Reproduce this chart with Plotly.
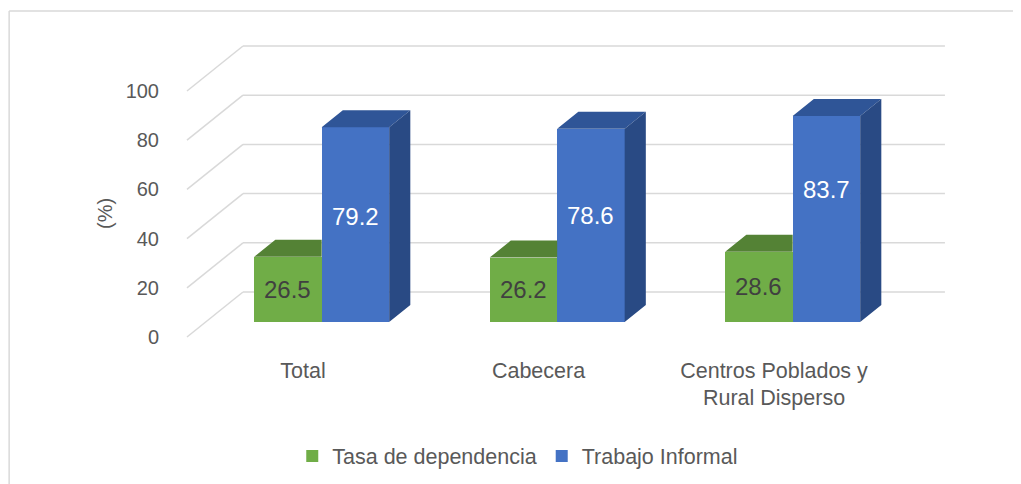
import plotly.graph_objects as go

# ---------------- data ----------------
categories = ["Total", "Cabecera", "Centros Poblados y<br>Rural Disperso"]
series_names = ["Tasa de dependencia", "Trabajo Informal"]
tasa_dependencia = [26.5, 26.2, 28.6]
trabajo_informal = [79.2, 78.6, 83.7]
y_ticks = [0, 20, 40, 60, 80, 100]

# ---------------- style ----------------
FRONT = ["#70AD47", "#4472C4"]
TOP = ["#548235", "#2F5597"]
SIDE = ["#4E7A30", "#294A84"]
LABEL_COLOR = ["#404040", "#FFFFFF"]
LABEL_NUDGE = [[0, 0, 0], [8, 10, 30]]  # px, upward nudge of inside labels
TXT = "#595959"
GRID = "#D9D9D9"
FONT = "Liberation Sans"

# pseudo-3D geometry (in axis units)
DEPTH_X = 0.2378      # x shift from front plane to back wall
DEPTH_Y = 18.29       # y shift from front plane to back wall
BAR_FRONT_D = 1 / 3   # depth fraction of bar front face
BAR_BACK_D = 0.711    # depth fraction of bar back face
BAR_W = 0.2866
FLOOR_LEFT, FLOOR_RIGHT = -0.4926, 2.488

values = [tasa_dependencia, trabajo_informal]
cat_x = list(range(len(categories)))

fig = go.Figure()

# gridlines (side wall diagonal + back wall)
shapes = []
for t in y_ticks:
    shapes.append(dict(type="line", xref="x", yref="y", layer="below",
                       x0=FLOOR_LEFT, y0=t, x1=FLOOR_LEFT + DEPTH_X, y1=t + DEPTH_Y,
                       line=dict(color=GRID, width=1.5)))
    shapes.append(dict(type="line", xref="x", yref="y", layer="below",
                       x0=FLOOR_LEFT + DEPTH_X, y0=t + DEPTH_Y,
                       x1=FLOOR_RIGHT + DEPTH_X, y1=t + DEPTH_Y,
                       line=dict(color=GRID, width=1.5)))
# outer chart border (top and left)
BORDER_X = -0.1915
shapes.append(dict(type="line", xref="paper", yref="paper", x0=BORDER_X, y0=1.0277,
                   x1=1.1, y1=1.0277, line=dict(color="#D9D9D9", width=1.5)))
shapes.append(dict(type="line", xref="paper", yref="paper", x0=BORDER_X, y0=1.0277,
                   x1=BORDER_X, y1=-0.6, line=dict(color="#D9D9D9", width=1.5)))

fx = BAR_FRONT_D * DEPTH_X
fy = BAR_FRONT_D * DEPTH_Y
ddx = (BAR_BACK_D - BAR_FRONT_D) * DEPTH_X
ddy = (BAR_BACK_D - BAR_FRONT_D) * DEPTH_Y

annotations = []
for k, (name, vals) in enumerate(zip(series_names, values)):
    lefts = [c + fx + (k - 1) * BAR_W for c in cat_x]
    centers = [l + BAR_W / 2 for l in lefts]
    fig.add_trace(go.Bar(
        x=centers, y=vals, base=[fy] * len(vals), width=BAR_W, name=name,
        marker=dict(color=FRONT[k], line=dict(width=0)), hoverinfo="skip",
    ))
    tx, ty, sx, sy = [], [], [], []
    for i, (l, v) in enumerate(zip(lefts, vals)):
        r = l + BAR_W
        top = fy + v
        # clip top face against a taller neighbour on the right
        if k + 1 < len(values) and values[k + 1][i] > v:
            tx += [l, r, r, l + ddx, l, None]
            ty += [top, top, top + ddy, top + ddy, top, None]
        else:
            tx += [l, r, r + ddx, l + ddx, l, None]
            ty += [top, top, top + ddy, top + ddy, top, None]
            sx += [r, r + ddx, r + ddx, r, r, None]
            sy += [fy, fy + ddy, top + ddy, top, fy, None]
        annotations.append(dict(x=l + BAR_W / 2, y=fy + v / 2, xref="x", yref="y",
                                text=f"{v:.1f}", showarrow=False,
                                yshift=LABEL_NUDGE[k][i],
                                font=dict(size=24, color=LABEL_COLOR[k], family=FONT)))
    fig.add_trace(go.Scatter(x=tx, y=ty, mode="lines", fill="toself", fillcolor=TOP[k],
                             line=dict(width=0, color=TOP[k]), showlegend=False,
                             hoverinfo="skip"))
    if sx:
        fig.add_trace(go.Scatter(x=sx, y=sy, mode="lines", fill="toself", fillcolor=SIDE[k],
                                 line=dict(width=0, color=SIDE[k]), showlegend=False,
                                 hoverinfo="skip"))

annotations.append(dict(text="(%)", xref="paper", yref="paper", x=-0.093, y=0.406,
                        textangle=-90, showarrow=False,
                        font=dict(size=20, color=TXT, family=FONT)))

fig.update_layout(
    width=1021, height=484,
    margin=dict(l=162, r=19, t=12, b=147),
    paper_bgcolor="white", plot_bgcolor="white",
    barmode="overlay", bargap=0,
    font=dict(family=FONT, color=TXT, size=20),
    shapes=shapes, annotations=annotations,
    showlegend=True,
    legend=dict(orientation="h", x=0.414, xanchor="center", y=-0.3415, yanchor="middle",
                font=dict(size=21.5, color=TXT, family=FONT)),
)
fig.update_xaxes(range=[-0.5648, 3.0021], tickmode="array", tickvals=cat_x,
                 ticktext=categories, showgrid=False, zeroline=False, showline=False,
                 ticks="", ticklabelstandoff=10,
                 tickfont=dict(size=21.5, color=TXT, family=FONT))
fig.update_yaxes(range=[-3.25, 128.86], tickmode="array", tickvals=y_ticks,
                 showgrid=False, zeroline=False, showline=False, ticks="",
                 ticklabelstandoff=10, tickfont=dict(size=20, color=TXT, family=FONT))

fig.write_html("out.html")
